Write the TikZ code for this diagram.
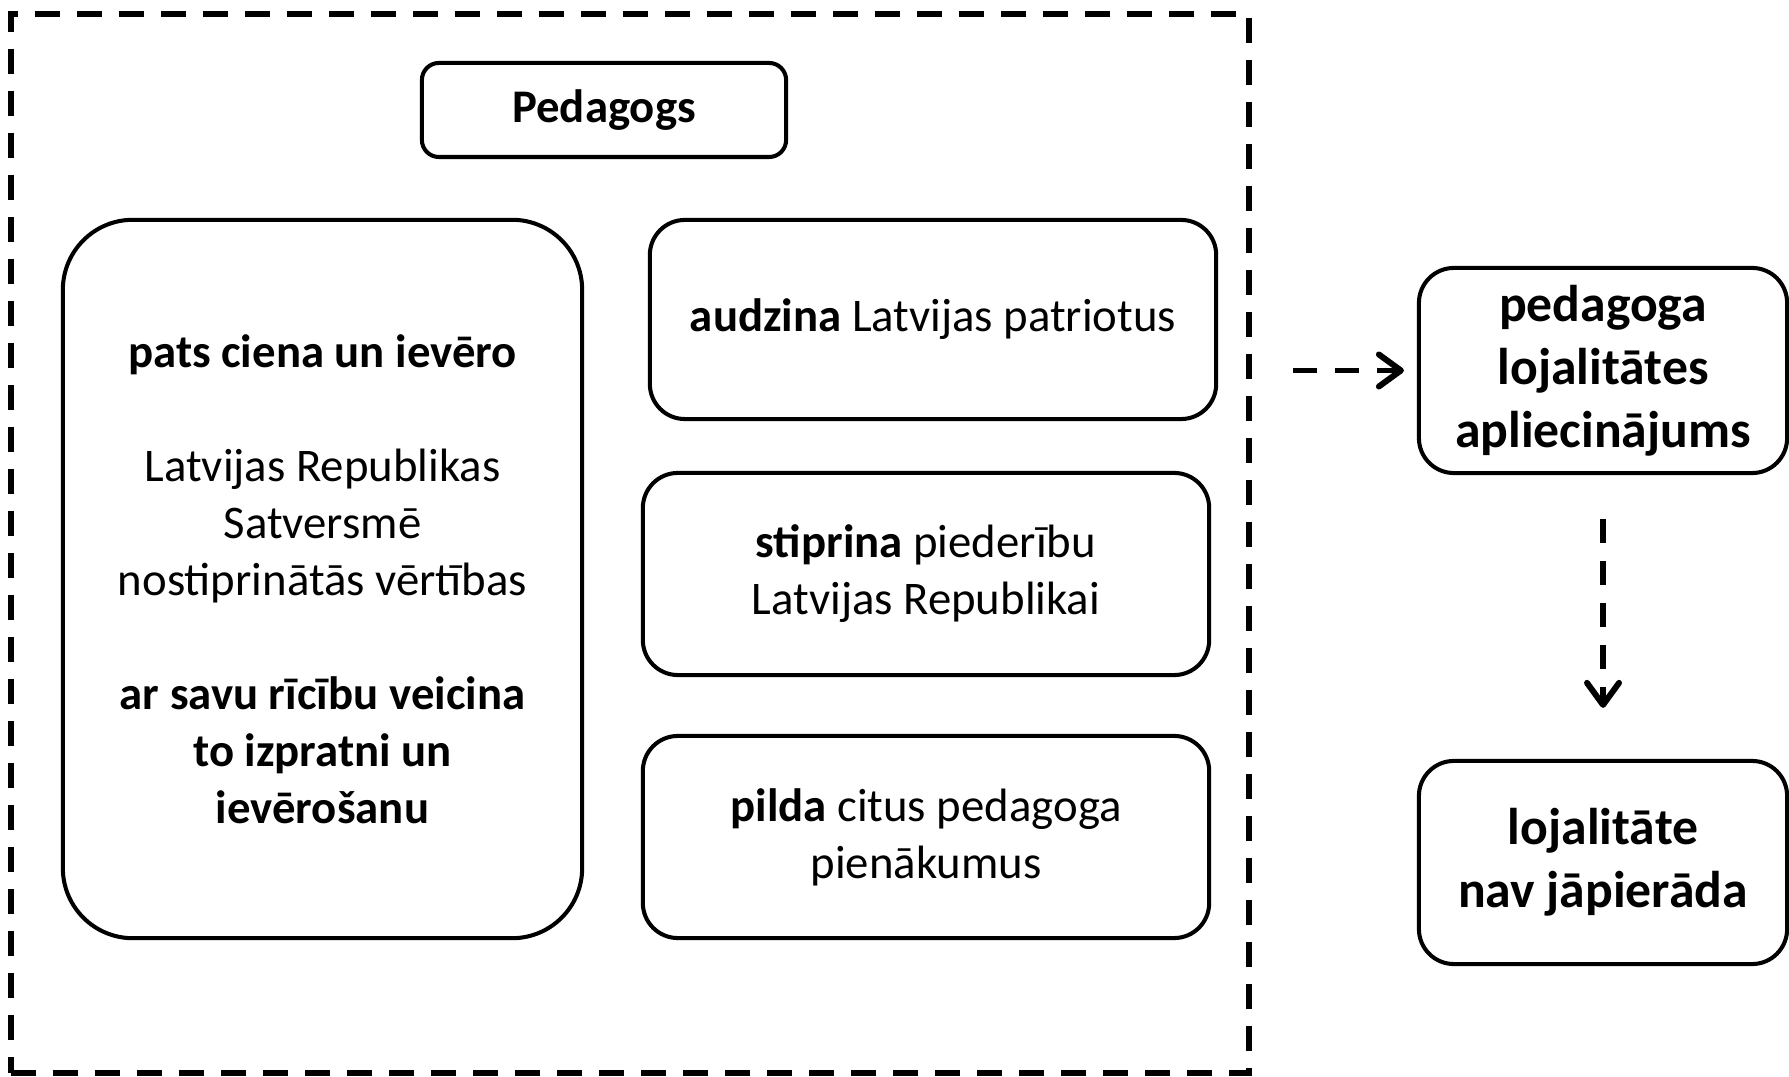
\documentclass[tikz,border=0pt]{standalone}
\usepackage{fontspec}
\setmainfont{Carlito}
\usetikzlibrary{arrows.meta}
\usetikzlibrary{positioning}

\begin{document}
\begin{tikzpicture}[x=0.01cm,y=-0.01cm,
  box/.style={draw,line width=1.15pt,rounded corners=0.35cm,align=center,
    inner sep=0pt,font=\fontsize{13.3pt}{16.2pt}\selectfont},
  bigbox/.style={box,font=\fontsize{14.7pt}{17.9pt}\selectfont\bfseries},
  dasharrow/.style={line width=1.7pt,dash pattern=on 0.24cm off 0.18cm,
    -{Straight Barb[length=0.22cm,width=0.32cm,line cap=round,line join=round]}}]

\path[use as bounding box] (0,0) rectangle (1789,1077);

%%% cadre
\node[draw,line width=1.7pt,dash pattern=on 0.25cm off 0.17cm,
  minimum width=12.38cm,minimum height=10.59cm] (frame) at (630,543.5) {};

\node[box,rounded corners=0.17cm,minimum width=3.64cm,minimum height=0.94cm]
  (ped) at (604,110) {\textbf{Pedagogs}};

% left box
\node[box,rounded corners=0.7cm,minimum width=5.19cm,minimum height=7.18cm]
  (ciena) at (322.5,579) {\textbf{pats ciena un ievēro}\\[16.2pt]
  Latvijas Republikas\\ Satversmē\\ nostiprinātās vērtības\\[16.2pt]
  \textbf{ar savu rīcību veicina}\\ \textbf{to izpratni un}\\ \textbf{ievērošanu}};

% right column
\node[box,minimum width=5.66cm,minimum height=1.99cm]
  (audz) at (933,319.5) {\textbf{audzina} Latvijas patriotus};
\node[box,minimum width=5.66cm,minimum height=2.02cm]
  (stipr) at (926,574) {\textbf{stiprina} piederību\\ Latvijas Republikai};
\node[box,minimum width=5.66cm,minimum height=2.02cm]
  (pilda) at (926,837) {\textbf{pilda} citus pedagoga\\ pienākumus};

%%% lojalitate
\node[bigbox,minimum width=3.68cm,minimum height=2.05cm]
  (aplie) at (1603,370.5) {pedagoga\\ lojalitātes\\ apliecinājums};
\node[bigbox,minimum width=3.68cm,minimum height=2.03cm]
  (nav) at (1603,862.5) {lojalitāte\\ nav jāpierāda};

\draw[dasharrow,shorten <=0.41cm,shorten >=0.13cm] (aplie.west -| frame.east) -- (aplie.west);
\draw[dasharrow,shorten <=0.44cm,shorten >=0.51cm] (aplie.south) -- (nav.north);

\end{tikzpicture}
\end{document}
